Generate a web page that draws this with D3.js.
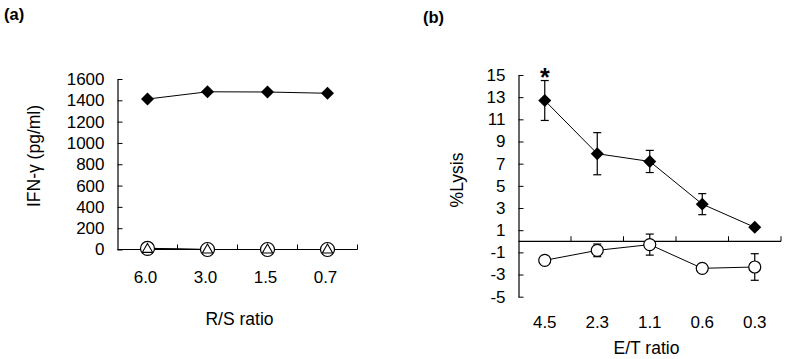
<!DOCTYPE html>
<html>
<head>
<meta charset="utf-8">
<script src="https://cdn.jsdelivr.net/npm/d3@7"></script>
<style>
  body { margin: 0; background: #fff; }
  svg { display: block; }
  text { font-family: "Liberation Sans", Arial, sans-serif; fill: #000; }
</style>
</head>
<body>
<svg id="chart" width="787" height="359" font-family="Liberation Sans, Arial, sans-serif"></svg>
<script>
// Panel (a): IFN-gamma release vs R/S ratio
const rsRatios = ["6.0", "3.0", "1.5", "0.7"];
const ifnDiamond = [1412, 1480, 1478, 1466];
const ifnCircle = [10, 0, 0, 0];
const ifnTriangle = [6, 0, 0, 0];
const ifnTicks = [0, 200, 400, 600, 800, 1000, 1200, 1400, 1600];

// Panel (b): %Lysis vs E/T ratio
const etRatios = ["4.5", "2.3", "1.1", "0.6", "0.3"];
const lysisDiamond = [12.7, 7.9, 7.2, 3.35, 1.26];
const lysisDiamondErr = [1.8, 1.9, 1.0, 0.95, 0.15];
const lysisCircle = [-1.72, -0.82, -0.3, -2.44, -2.32];
const lysisCircleErr = [0.15, 0.57, 0.95, 0.15, 1.2];
const lysisTicks = [15, 13, 11, 9, 7, 5, 3, 1, -1, -3, -5];

const svg = d3.select("#chart");
const tickLen = 5;
const fontTick = "17px";
const fontTitle = "17.5px";

// diamond marker (square turned 45 degrees)
const diamondPath = d3.symbol(d3.symbolSquare, 84)();

// plain numbers with hyphen minus, no thousands separator
const plainFmt = d => String(d);

// ---------- Panel (a) ----------
const ax = d3.scaleBand().domain(rsRatios).range([117.5, 357.5]);
const ay = d3.scaleLinear().domain([0, 1600]).range([249.5, 79]);
const ga = svg.append("g");

ga.append("text").attr("x", 4).attr("y", 20)
  .style("font-size", "16.5px").style("font-weight", "bold").text("(a)");

// y axis, ticks pointing inward
ga.append("g")
  .attr("transform", `translate(${ax.range()[0]},0)`)
  .call(d3.axisLeft(ay).tickValues(ifnTicks).tickFormat(plainFmt)
    .tickSizeInner(-tickLen).tickSizeOuter(0).tickPadding(13))
  .call(g => g.selectAll("text").style("font-size", fontTick))
  .call(g => g.select(".domain").attr("stroke", "#000").attr("stroke-width", 1.2))
  .attr("font-family", null);

// x axis line and ticks at band edges
ga.append("line")
  .attr("x1", ax.range()[0]).attr("x2", ax.range()[1])
  .attr("y1", ay(0)).attr("y2", ay(0))
  .attr("stroke", "#000").attr("stroke-width", 1.2);
ga.selectAll(".xtick").data(rsRatios).join("line")
  .attr("x1", d => ax(d) + ax.bandwidth()).attr("x2", d => ax(d) + ax.bandwidth())
  .attr("y1", ay(0)).attr("y2", ay(0) - tickLen)
  .attr("stroke", "#000");
ga.selectAll(".xlab").data(rsRatios).join("text")
  .attr("x", d => ax(d) + ax.bandwidth() / 2 - 2).attr("y", 283)
  .attr("text-anchor", "middle").style("font-size", fontTick).text(d => d);

ga.append("text").attr("x", 239.5).attr("y", 325)
  .attr("text-anchor", "middle").style("font-size", fontTitle).text("R/S ratio");
ga.append("text").attr("transform", "translate(40,156) rotate(-90)")
  .attr("text-anchor", "middle").style("font-size", fontTitle).text("IFN-γ (pg/ml)");

const axc = d => ax(d) + ax.bandwidth() / 2;
const lineA = d3.line().x((v, i) => axc(rsRatios[i])).y(v => ay(v));

ga.append("path").datum(ifnCircle).attr("d", lineA)
  .attr("fill", "none").attr("stroke", "#000").attr("stroke-width", 1.2);
ga.append("path").datum(ifnTriangle).attr("d", lineA)
  .attr("fill", "none").attr("stroke", "#000").attr("stroke-width", 1.2);
ga.append("path").datum(ifnDiamond).attr("d", lineA)
  .attr("fill", "none").attr("stroke", "#000").attr("stroke-width", 1);

ga.selectAll(".circ").data(ifnCircle).join("circle")
  .attr("cx", (v, i) => axc(rsRatios[i])).attr("cy", v => ay(v))
  .attr("r", 7).attr("fill", "#fff").attr("stroke", "#000").attr("stroke-width", 1.2);
const triPath = d3.symbol(d3.symbolTriangle, 46)();
ga.selectAll(".tri").data(ifnTriangle).join("path")
  .attr("d", triPath)
  .attr("transform", (v, i) => `translate(${axc(rsRatios[i])},${ay(v) + 0.5})`)
  .attr("fill", "#fff").attr("stroke", "#000").attr("stroke-width", 1.1);
ga.selectAll(".dia").data(ifnDiamond).join("path")
  .attr("d", diamondPath)
  .attr("transform", (v, i) => `translate(${axc(rsRatios[i])},${ay(v)}) rotate(45)`)
  .attr("fill", "#000");

// ---------- Panel (b) ----------
const bx = d3.scaleBand().domain(etRatios).range([518.5, 781]);
const by = d3.scaleLinear().domain([-5, 15]).range([296.7, 75]);
const gb = svg.append("g");

gb.append("text").attr("x", 423).attr("y", 23)
  .style("font-size", "16.5px").style("font-weight", "bold").text("(b)");

gb.append("g")
  .attr("transform", `translate(${bx.range()[0]},0)`)
  .call(d3.axisLeft(by).tickValues(lysisTicks).tickFormat(plainFmt)
    .tickSizeInner(-tickLen).tickSizeOuter(0).tickPadding(13))
  .call(g => g.selectAll("text").style("font-size", fontTick))
  .call(g => g.select(".domain").attr("stroke", "#000").attr("stroke-width", 1.2))
  .attr("font-family", null);

gb.append("line")
  .attr("x1", bx.range()[0]).attr("x2", bx.range()[1])
  .attr("y1", by(0)).attr("y2", by(0))
  .attr("stroke", "#000").attr("stroke-width", 1.2);
gb.selectAll(".xtick").data(etRatios).join("line")
  .attr("x1", d => bx(d) + bx.bandwidth()).attr("x2", d => bx(d) + bx.bandwidth())
  .attr("y1", by(0)).attr("y2", by(0) - tickLen)
  .attr("stroke", "#000");
gb.selectAll(".xlab").data(etRatios).join("text")
  .attr("x", d => bx(d) + bx.bandwidth() / 2).attr("y", 327.5)
  .attr("text-anchor", "middle").style("font-size", fontTick).text(d => d);

gb.append("text").attr("x", 646.5).attr("y", 354)
  .attr("text-anchor", "middle").style("font-size", fontTitle).text("E/T ratio");
gb.append("text").attr("transform", "translate(463,180) rotate(-90)")
  .attr("text-anchor", "middle").style("font-size", fontTitle).text("%Lysis");

const bxc = d => bx(d) + bx.bandwidth() / 2;
const lineB = d3.line().x((v, i) => bxc(etRatios[i])).y(v => by(v));

function errorBars(g, means, errs) {
  const cap = 4;
  means.forEach((m, i) => {
    const x = bxc(etRatios[i]);
    const y0 = by(m - errs[i]), y1 = by(m + errs[i]);
    g.append("line").attr("x1", x).attr("x2", x).attr("y1", y0).attr("y2", y1)
      .attr("stroke", "#000").attr("stroke-width", 1.2);
    [y0, y1].forEach(y => g.append("line")
      .attr("x1", x - cap).attr("x2", x + cap).attr("y1", y).attr("y2", y)
      .attr("stroke", "#000").attr("stroke-width", 1.2));
  });
}
errorBars(gb, lysisDiamond, lysisDiamondErr);
errorBars(gb, lysisCircle, lysisCircleErr);

gb.append("path").datum(lysisDiamond).attr("d", lineB)
  .attr("fill", "none").attr("stroke", "#000").attr("stroke-width", 1);
gb.append("path").datum(lysisCircle).attr("d", lineB)
  .attr("fill", "none").attr("stroke", "#000").attr("stroke-width", 1);

gb.selectAll(".dia").data(lysisDiamond).join("path")
  .attr("d", diamondPath)
  .attr("transform", (v, i) => `translate(${bxc(etRatios[i])},${by(v)}) rotate(45)`)
  .attr("fill", "#000");
gb.selectAll(".circ").data(lysisCircle).join("circle")
  .attr("cx", (v, i) => bxc(etRatios[i])).attr("cy", v => by(v))
  .attr("r", 6).attr("fill", "#fff").attr("stroke", "#000").attr("stroke-width", 1.2);

// significance mark over the first point
gb.append("text").attr("x", bxc(etRatios[0])).attr("y", 86)
  .attr("text-anchor", "middle").style("font-size", "25px").style("font-weight", "bold").text("*");
</script>
</body>
</html>
